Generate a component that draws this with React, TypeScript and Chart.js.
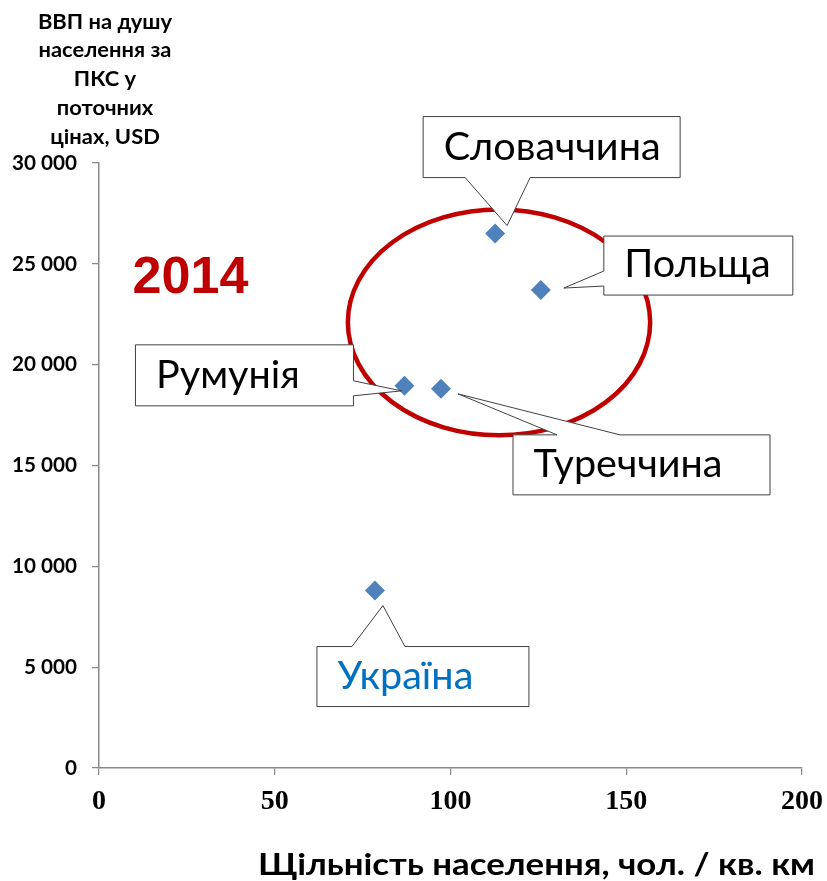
import React, { useEffect, useRef } from 'react';
import { Chart, registerables } from 'chart.js';

Chart.register(...registerables);

// ---------- data ----------
const COUNTRIES = ['Україна', 'Румунія', 'Туреччина', 'Словаччина', 'Польща'];
const DENSITY = [78.5, 86.9, 97.3, 112.7, 125.7];
const GDP_PPP = [8800, 18950, 18800, 26500, 23700];
const X_TICKS = [0, 50, 100, 150, 200];
const Y_TICKS = [0, 5000, 10000, 15000, 20000, 25000, 30000];
const Y_TITLE_LINES = ['ВВП на душу', 'населення за', 'ПКС у', 'поточних', 'цінах, USD'];
const X_TITLE = 'Щільність населення, чол. / кв. км';
const YEAR_LABEL = '2014';
const HIGHLIGHT_CENTER = [113.8, 22100];
const HIGHLIGHT_RADII = [43, 5600];

// ---------- styling / layout ----------
const W = 827;
const H = 881;
const POINT_COLOR = '#4F81BD';
const RED = '#C00000';
const AXIS_COLOR = '#8a8a8a';
const HIGHLIGHT_TEXT = { 'Україна': '#0070C0' } as Record<string, string>;

// callout boxes, pixel offsets relative to the point they point at
const CALLOUTS: Record<string, { box: number[]; side: string; base: number[]; tip: number[] }> = {
  'Словаччина': { box: [-72, -117, 185, -56], side: 'bottom', base: [-30, 35], tip: [12, -8] },
  'Польща': { box: [63, -54, 252, 5], side: 'left', base: [-19, -4], tip: [23, -2] },
  'Румунія': { box: [-269, -41, -51, 20], side: 'right', base: [-5, 10], tip: [-3, 5] },
  'Туреччина': { box: [72, 46, 329, 106], side: 'top', base: [116, 179], tip: [17, 5] },
  'Україна': { box: [-58, 56, 154, 116], side: 'top', base: [-23, 30], tip: [8, 15] },
};

function measure(text: string, font: string) {
  const c = document.createElement('canvas').getContext('2d')!;
  c.font = font;
  return c.measureText(text).width;
}

function fitSize(text: string, weight: number, family: string, target: number) {
  return (100 * target) / measure(text, `${weight} 100px ${family}`);
}

// draw text with a horizontal squeeze so that it matches a wanted width
function drawSqueezed(ctx: CanvasRenderingContext2D, text: string, x: number, y: number, sx: number, align: string) {
  ctx.save();
  ctx.translate(x, y);
  ctx.scale(sx, 1);
  ctx.textAlign = align as CanvasTextAlign;
  ctx.fillText(text, 0, 0);
  ctx.restore();
}

function fmt(v: number) {
  return String(v).replace(/\B(?=(\d{3})+(?!\d))/g, ' ');
}

export default function App() {
  const ref = useRef<HTMLCanvasElement | null>(null);

  useEffect(() => {
    document.body.style.margin = '0';
    const canvas = ref.current!;

    const calloutFont = '400 38px Lato';
    const calloutSx = 217 / measure('Словаччина', calloutFont);
    const yTitleFont = '700 20px Lato';
    const yTitleSx = 133 / measure('населення за', yTitleFont);
    const xTitleFont = '700 30px Lato';
    const xTitleSx = 557 / measure(X_TITLE, xTitleFont);
    const yTickSize = fitSize('30 000', 700, 'Lato', 65);
    const yearSize = fitSize(YEAR_LABEL, 700, '"Liberation Sans"', 116);

    const decor = {
      id: 'decor',
      beforeDatasetsDraw(chart: any) {
        const { ctx, scales } = chart;
        const cx = scales.x.getPixelForValue(HIGHLIGHT_CENTER[0]);
        const cy = scales.y.getPixelForValue(HIGHLIGHT_CENTER[1]);
        const rx = scales.x.getPixelForValue(HIGHLIGHT_CENTER[0] + HIGHLIGHT_RADII[0]) - cx;
        const ry = cy - scales.y.getPixelForValue(HIGHLIGHT_CENTER[1] + HIGHLIGHT_RADII[1]);
        ctx.save();
        ctx.beginPath();
        ctx.ellipse(cx, cy, rx, ry, 0, 0, Math.PI * 2);
        ctx.strokeStyle = RED;
        ctx.lineWidth = 4.5;
        ctx.stroke();
        ctx.restore();
      },
      afterDatasetsDraw(chart: any) {
        const { ctx, scales } = chart;
        ctx.save();
        COUNTRIES.forEach((name, i) => {
          const c = CALLOUTS[name];
          if (!c) return;
          const px = scales.x.getPixelForValue(DENSITY[i]);
          const py = scales.y.getPixelForValue(GDP_PPP[i]);
          const x1 = px + c.box[0], y1 = py + c.box[1], x2 = px + c.box[2], y2 = py + c.box[3];
          const tx = px + c.tip[0], ty = py + c.tip[1];
          ctx.beginPath();
          ctx.moveTo(x1, y1);
          if (c.side === 'top') {
            ctx.lineTo(px + c.base[0], y1);
            ctx.lineTo(tx, ty);
            ctx.lineTo(px + c.base[1], y1);
          }
          ctx.lineTo(x2, y1);
          if (c.side === 'right') {
            ctx.lineTo(x2, py + c.base[0]);
            ctx.lineTo(tx, ty);
            ctx.lineTo(x2, py + c.base[1]);
          }
          ctx.lineTo(x2, y2);
          if (c.side === 'bottom') {
            ctx.lineTo(px + c.base[1], y2);
            ctx.lineTo(tx, ty);
            ctx.lineTo(px + c.base[0], y2);
          }
          ctx.lineTo(x1, y2);
          if (c.side === 'left') {
            ctx.lineTo(x1, py + c.base[1]);
            ctx.lineTo(tx, ty);
            ctx.lineTo(x1, py + c.base[0]);
          }
          ctx.closePath();
          ctx.fillStyle = '#ffffff';
          ctx.fill();
          ctx.lineWidth = 1;
          ctx.strokeStyle = '#404040';
          ctx.stroke();
          ctx.fillStyle = HIGHLIGHT_TEXT[name] || '#000000';
          ctx.font = calloutFont;
          ctx.textBaseline = 'alphabetic';
          drawSqueezed(ctx, name, x1 + 20.5, y2 - 18, calloutSx, 'left');
        });
        ctx.restore();
      },
      afterDraw(chart: any) {
        const { ctx } = chart;
        ctx.save();
        ctx.fillStyle = '#000000';
        ctx.textBaseline = 'alphabetic';
        ctx.font = yTitleFont;
        Y_TITLE_LINES.forEach((line, i) => {
          drawSqueezed(ctx, line, 105, 28.5 + i * 28.8, yTitleSx, 'center');
        });
        ctx.font = xTitleFont;
        drawSqueezed(ctx, X_TITLE, 815, 875, xTitleSx, 'right');
        ctx.textAlign = 'left';
        ctx.fillStyle = RED;
        ctx.font = `700 ${yearSize}px "Liberation Sans"`;
        ctx.fillText(YEAR_LABEL, 132.5, 292.5);
        ctx.restore();
      },
    };

    const chart = new Chart(canvas, {
      type: 'scatter',
      data: {
        datasets: [
          {
            label: 'ВВП на душу населення',
            data: COUNTRIES.map((_, i) => ({ x: DENSITY[i], y: GDP_PPP[i] })),
            pointStyle: 'rectRot',
            pointRadius: 10,
            pointHoverRadius: 10,
            backgroundColor: POINT_COLOR,
            borderColor: POINT_COLOR,
            borderWidth: 0,
          },
        ],
      },
      options: {
        responsive: false,
        animation: false,
        events: [],
        layout: { padding: { top: 163, right: 25, left: 0, bottom: 0 } },
        plugins: { legend: { display: false }, tooltip: { enabled: false } },
        scales: {
          x: {
            type: 'linear',
            min: 0,
            max: 200,
            afterBuildTicks: (s: any) => {
              s.ticks = X_TICKS.map((v) => ({ value: v }));
            },
            afterFit: (s: any) => {
              s.height = 113;
              s.paddingLeft = 0;
              s.paddingRight = 0;
            },
            grid: { drawOnChartArea: false, drawTicks: true, tickLength: 7, color: AXIS_COLOR, lineWidth: 1.25 },
            border: { color: AXIS_COLOR, width: 1.5 },
            ticks: {
              font: { family: '"Liberation Serif"', weight: 'bold', size: 28 },
              color: '#000000',
              padding: 10,
              maxRotation: 0,
              autoSkip: false,
              callback: (v: any) => fmt(Number(v)),
            },
          },
          y: {
            type: 'linear',
            min: 0,
            max: 30000,
            afterBuildTicks: (s: any) => {
              s.ticks = Y_TICKS.map((v) => ({ value: v }));
            },
            afterFit: (s: any) => {
              s.width = 99;
              s.paddingTop = 0;
              s.paddingBottom = 0;
            },
            grid: { drawOnChartArea: false, drawTicks: true, tickLength: 7, color: AXIS_COLOR, lineWidth: 1.25 },
            border: { color: AXIS_COLOR, width: 1.5 },
            ticks: {
              font: { family: 'Lato', weight: 'bold', size: yTickSize },
              color: '#000000',
              padding: 15,
              autoSkip: false,
              callback: (v: any) => fmt(Number(v)),
            },
          },
        },
      },
      plugins: [decor],
    } as any);

    return () => chart.destroy();
  }, []);

  return (
    <div style={{ width: W, height: H, background: '#ffffff' }}>
      <canvas ref={ref} width={W} height={H} style={{ display: 'block' }} />
    </div>
  );
}
